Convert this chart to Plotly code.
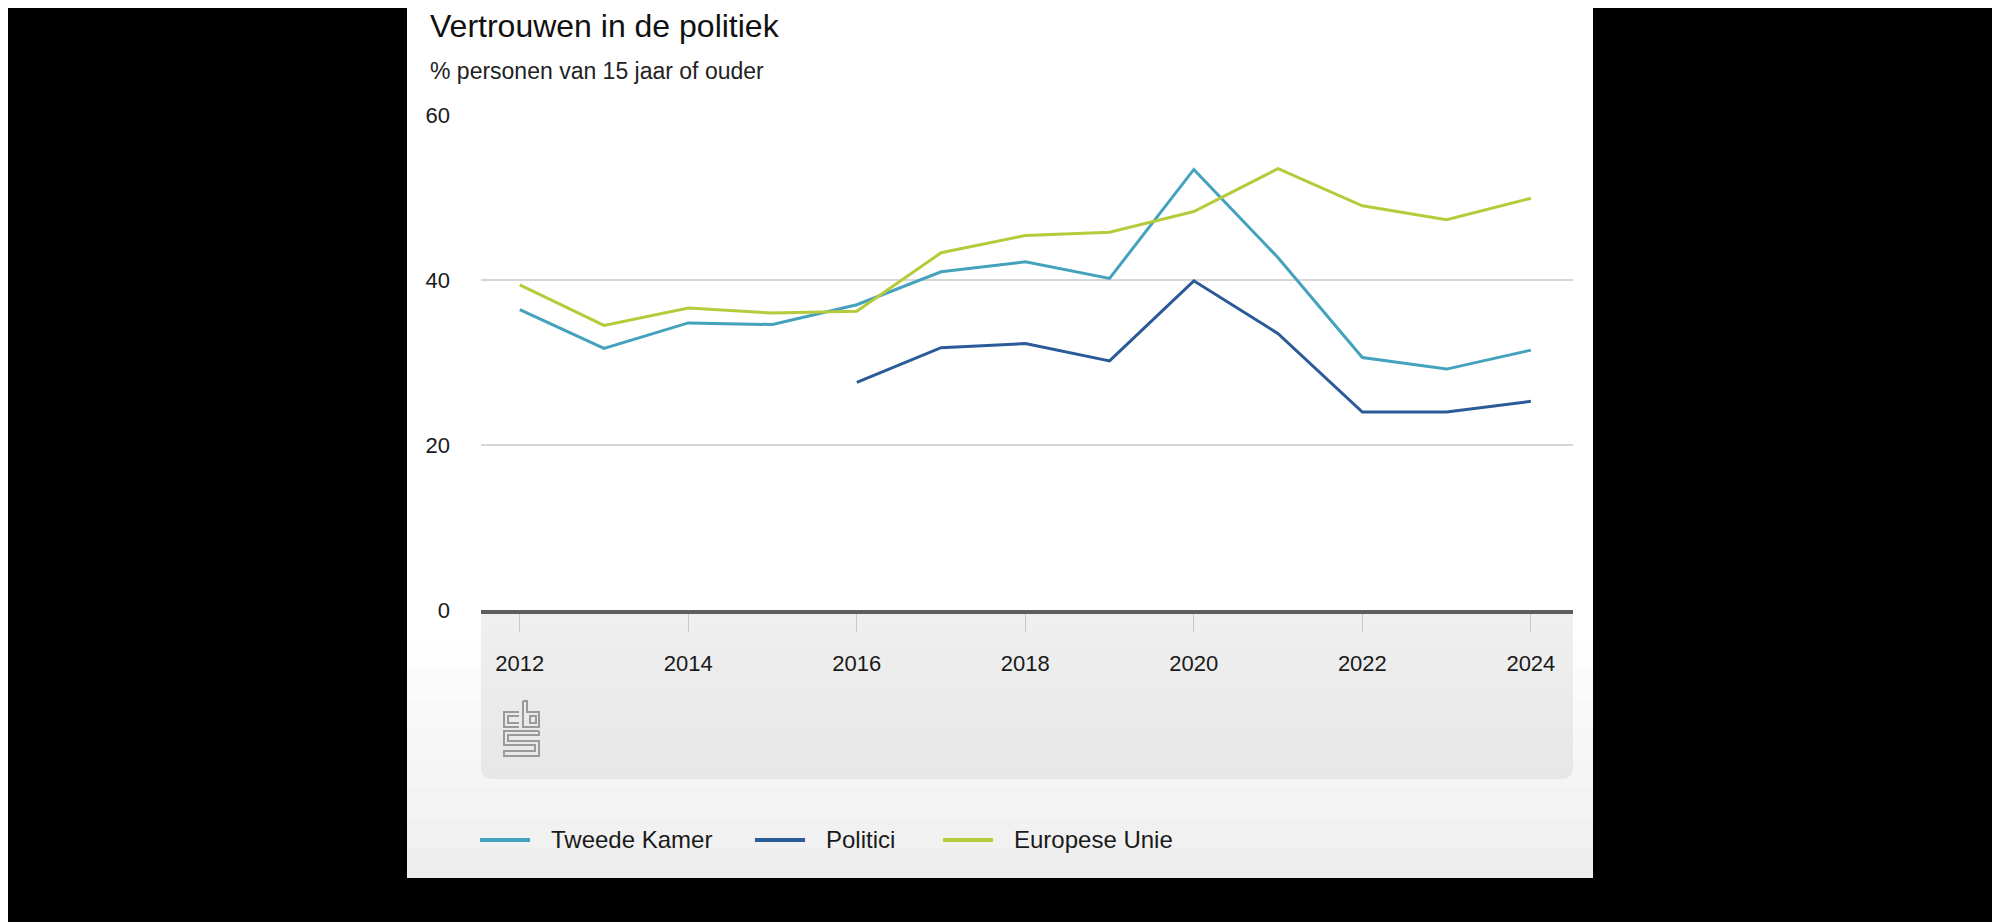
import plotly.graph_objects as go

# ---- data ----
years = [2012, 2013, 2014, 2015, 2016, 2017, 2018, 2019, 2020, 2021, 2022, 2023, 2024]
tweede_kamer = [36.4, 31.7, 34.8, 34.6, 37.0, 41.0, 42.2, 40.2, 53.4, 42.7, 30.6, 29.2, 31.5]
politici = [None, None, None, None, 27.6, 31.8, 32.3, 30.2, 39.9, 33.5, 24.0, 24.0, 25.3]
europese_unie = [39.4, 34.5, 36.6, 36.0, 36.2, 43.3, 45.4, 45.8, 48.3, 53.5, 49.0, 47.3, 49.9]
series_names = ["Tweede Kamer", "Politici", "Europese Unie"]
series_colors = ["#45a2bd", "#2b5a98", "#b7ca3c"]

title_text = "Vertrouwen in de politiek"
subtitle_text = "% personen van 15 jaar of ouder"

W, H = 2000, 922
OFF = 8  # page offset of the figure in the browser
L, R, T, B = 481, 1573, 115, 610  # plot area in reference px
PW, PH = R - L, B - T

def px(x):
    return (x - L) / PW

def py(y):
    return (B - y) / PH

FONT = "Liberation Sans, Arial, sans-serif"

fig = go.Figure()
for name, vals, col in zip(series_names, [tweede_kamer, politici, europese_unie], series_colors):
    fig.add_trace(go.Scatter(x=years, y=vals, name=name, mode="lines", showlegend=False,
                             line=dict(color=col, width=3), connectgaps=False))

shapes = []
# white panel
shapes.append(dict(type="rect", xref="paper", yref="paper", layer="below",
                   x0=px(407), x1=px(1593), y0=py(-10), y1=py(878),
                   fillcolor="white", line=dict(width=0)))
# panel bottom gradient bands
band_cols = ["#fdfdfd", "#fbfbfb", "#f9f9f9", "#f7f7f7", "#f5f5f5", "#f3f3f3", "#f1f1f1", "#eeeeee"]
y_start, y_end = 640, 878
step = (y_end - y_start) / len(band_cols)
for i, c in enumerate(band_cols):
    shapes.append(dict(type="rect", xref="paper", yref="paper", layer="below",
                       x0=px(407), x1=px(1593), y0=py(y_start + i * step), y1=py(min(y_start + (i + 1) * step + 1, y_end)),
                       fillcolor=c, line=dict(width=0)))

# gray box below the axis with rounded bottom corners
r = 12
box_top, box_bot = 610, 779
def rounded_path(x0, x1, y0, y1, rad):
    return (f"M {px(x0)},{py(y0)} L {px(x1)},{py(y0)} L {px(x1)},{py(y1 - rad)} "
            f"Q {px(x1)},{py(y1)} {px(x1 - rad)},{py(y1)} L {px(x0 + rad)},{py(y1)} "
            f"Q {px(x0)},{py(y1)} {px(x0)},{py(y1 - rad)} Z")
shapes.append(dict(type="path", xref="paper", yref="paper", layer="below",
                   path=rounded_path(L, R, box_top, box_bot, r),
                   fillcolor="#e7e7e7", line=dict(width=0)))
box_cols = ["#efefef", "#eeeeee", "#ededed", "#ececec", "#ebebeb", "#eaeaea", "#e9e9e9", "#e8e8e8"]
bstep = (box_bot - r - box_top) / len(box_cols)
for i, c in enumerate(box_cols):
    shapes.append(dict(type="rect", xref="paper", yref="paper", layer="below",
                       x0=px(L), x1=px(R), y0=py(box_top + i * bstep), y1=py(box_top + (i + 1) * bstep + 1),
                       fillcolor=c, line=dict(width=0)))

# cbs logo (approximate outline)
lc = dict(color="#9a9a9a", width=2)
def pth(points):
    return "M " + " L ".join(f"{px(a)},{py(b)}" for a, b in points)
shapes.append(dict(type="path", xref="paper", yref="paper", line=lc,
                   path=pth([(519, 712), (504, 712), (504, 727), (519, 727)])))
shapes.append(dict(type="path", xref="paper", yref="paper", line=lc,
                   path=pth([(519, 716), (508, 716), (508, 723), (519, 723)])))
shapes.append(dict(type="path", xref="paper", yref="paper", line=lc,
                   path=pth([(523, 701), (527, 701), (527, 712), (539, 712), (539, 727), (523, 727), (523, 701)])))
shapes.append(dict(type="rect", xref="paper", yref="paper", line=lc,
                   x0=px(530), x1=px(536), y0=py(716), y1=py(723)))
shapes.append(dict(type="path", xref="paper", yref="paper", line=lc,
                   path=pth([(539, 731), (504, 731), (504, 745), (535, 745), (535, 751), (504, 751),
                             (504, 756), (539, 756), (539, 741), (508, 741), (508, 735), (539, 735), (539, 731)])))

annotations = [
    dict(text=title_text, xref="paper", yref="paper", x=px(428), y=py(26),
         xanchor="left", yanchor="middle", showarrow=False,
         font=dict(family=FONT, size=32, color="#111111")),
    dict(text=subtitle_text, xref="paper", yref="paper", x=px(428), y=py(71),
         xanchor="left", yanchor="middle", showarrow=False,
         font=dict(family=FONT, size=23, color="#222222")),
]

# manual legend (line sample + label)
legend_line_x = [480, 755, 943]
legend_y = 840
for name, col, lx in zip(series_names, series_colors, legend_line_x):
    shapes.append(dict(type="line", xref="paper", yref="paper",
                       x0=px(lx), x1=px(lx + 50), y0=py(legend_y), y1=py(legend_y),
                       line=dict(color=col, width=4)))
    annotations.append(dict(text=name, xref="paper", yref="paper", x=px(lx + 69), y=py(legend_y),
                            xanchor="left", yanchor="middle", showarrow=False,
                            font=dict(family=FONT, size=24, color="#1a1a1a")))

fig.update_layout(
    width=W, height=H,
    paper_bgcolor="black", plot_bgcolor="rgba(0,0,0,0)",
    margin=dict(l=L - OFF, r=W - R + OFF, t=T - OFF, b=H - B + OFF, pad=0),
    showlegend=False,
    shapes=shapes, annotations=annotations,
    xaxis=dict(range=[2011.54, 2024.5], tick0=2012, dtick=2, showgrid=False, zeroline=False,
               showline=True, linecolor="#5e5e5e", linewidth=4,
               ticks="outside", ticklen=18, tickwidth=1, tickcolor="#c8c8c8",
               ticklabelstandoff=13,
               tickfont=dict(family=FONT, size=22, color="#1a1a1a"), fixedrange=True),
    yaxis=dict(range=[0, 60], tickvals=[0, 20, 40, 60], showgrid=True, gridcolor="#d6d6d6", gridwidth=1.5,
               zeroline=False, showline=False, ticks="", ticklabelstandoff=30,
               tickfont=dict(family=FONT, size=22, color="#1a1a1a"), fixedrange=True),
    font=dict(family=FONT),
)

fig.write_html("out.html")
